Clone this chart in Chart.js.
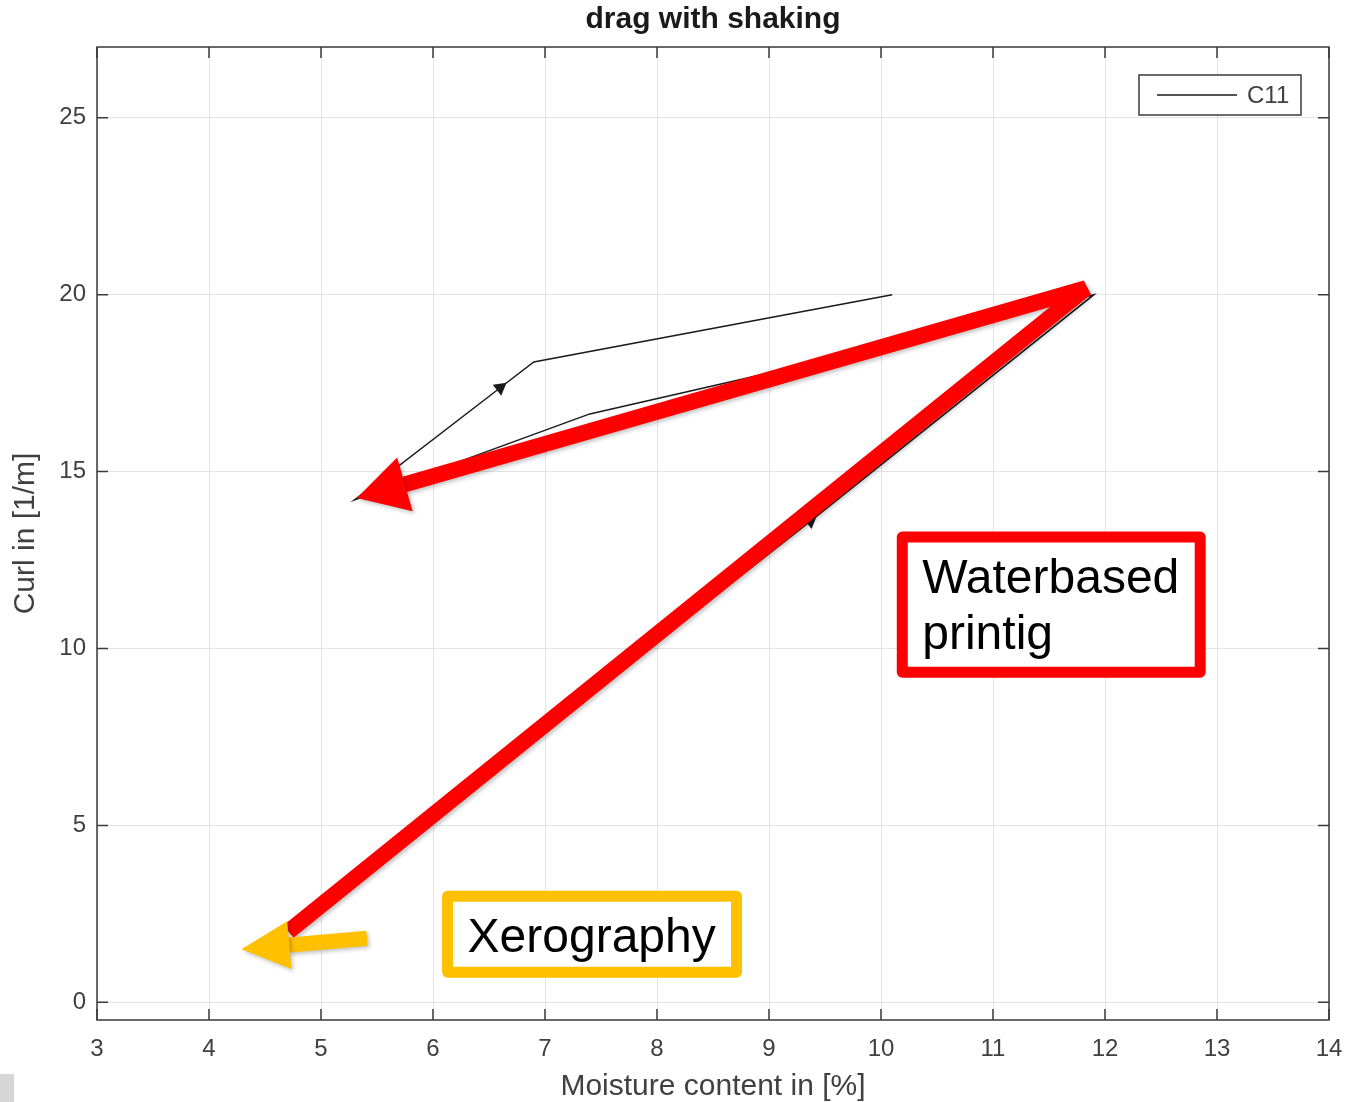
<!DOCTYPE html>
<html>
<head>
<meta charset="utf-8">
<title>drag with shaking</title>
<script src="https://cdn.jsdelivr.net/npm/chart.js@4.4.1/dist/chart.umd.min.js"></script>
<style>
  html, body { margin: 0; padding: 0; background: #fff; overflow: hidden; }
  #wrap { position: relative; width: 1349px; height: 1102px; }
  #curlChart { display: block; }
  #corner { position: absolute; left: 0; top: 1074px; width: 14px; height: 28px; background: #d6d6d6; }
</style>
</head>
<body>
<div id="wrap">
  <canvas id="curlChart" width="1349" height="1102"></canvas>
  <div id="corner"></div>
</div>
<script>
// Curve C11, in drawing order (moisture in %, curl in 1/m)
const moisture = [4.72, 5.84, 9.37, 11.90, 9.86, 7.40, 5.30, 6.60, 6.90, 10.10];
const curl     = [2.05, 4.84, 13.60, 20.00, 18.41, 16.63, 14.20, 17.37, 18.10, 20.00];
// points carrying a direction arrowhead
const arrowMarks = [1, 2, 4, 7];

const xTicks = [3, 4, 5, 6, 7, 8, 9, 10, 11, 12, 13, 14];
const yTicks = [0, 5, 10, 15, 20, 25];

// slide annotations (data units); arrowhead sits on the first point
const redArrow = [[5.32, 14.25], [11.83, 20.18], [4.71, 2.00]];
const yellowArrow = [[4.29, 1.50], [5.41, 1.81]];
// [x left, y top, x right, y bottom]
const redBox = [10.19, 13.15, 12.85, 9.33];
const yellowBox = [6.13, 3.00, 8.71, 0.85];
const redBoxText = ['Waterbased', 'printig'];
const yellowBoxText = ['Xerography'];
const chartTitle = 'drag with shaking';

const AXIS_COLOR = '#3a3a3a';
const TEXT_COLOR = '#404040';
const FONT = '"Liberation Sans", Arial, Helvetica, sans-serif';

function px(chart, p) {
    return [chart.scales.x.getPixelForValue(p[0]), chart.scales.y.getPixelForValue(p[1])];
}

function drawArrow(ctx, pts, color, width, headLen, headHalf) {
    const [tx, ty] = pts[0];
    const [nx, ny] = pts[1];
    const len = Math.hypot(tx - nx, ty - ny);
    const ux = (tx - nx) / len, uy = (ty - ny) / len;
    const bx = tx - ux * headLen, by = ty - uy * headLen;

    ctx.save();
    ctx.shadowColor = 'rgba(0,0,0,0.25)';
    ctx.shadowBlur = 4;
    ctx.shadowOffsetX = 2;
    ctx.shadowOffsetY = 2;

    ctx.strokeStyle = color;
    ctx.lineWidth = width;
    ctx.lineJoin = 'bevel';
    ctx.lineCap = 'butt';
    ctx.beginPath();
    ctx.moveTo(bx + ux * 2, by + uy * 2);
    for (let i = 1; i < pts.length; i++) ctx.lineTo(pts[i][0], pts[i][1]);
    ctx.stroke();

    ctx.fillStyle = color;
    ctx.beginPath();
    ctx.moveTo(tx, ty);
    ctx.lineTo(bx - uy * headHalf, by + ux * headHalf);
    ctx.lineTo(bx + uy * headHalf, by - ux * headHalf);
    ctx.closePath();
    ctx.fill();
    ctx.restore();
}

function drawTextBox(chart, box, lines, color) {
    const ctx = chart.ctx;
    const [x1, y1] = px(chart, [box[0], box[1]]);
    const [x2, y2] = px(chart, [box[2], box[3]]);
    ctx.save();
    ctx.fillStyle = '#fff';
    ctx.fillRect(x1, y1, x2 - x1, y2 - y1);
    ctx.strokeStyle = color;
    ctx.lineWidth = 11;
    ctx.lineJoin = 'round';
    ctx.strokeRect(x1, y1, x2 - x1, y2 - y1);
    ctx.fillStyle = '#000';
    ctx.font = '48px ' + FONT;
    ctx.textBaseline = 'alphabetic';
    ctx.textAlign = 'left';
    lines.forEach((t, i) => ctx.fillText(t, x1 + 20, y1 + 56 + i * 56));
    ctx.restore();
}

// MATLAB-like box with inward ticks, centred title, legend and the slide annotations
const overlayPlugin = {
    id: 'overlay',
    afterDatasetsDraw(chart) {
        const ctx = chart.ctx;
        const { left, right, top, bottom } = chart.chartArea;
        const xs = chart.scales.x, ys = chart.scales.y;

        ctx.save();
        ctx.strokeStyle = AXIS_COLOR;
        ctx.lineWidth = 1.5;
        ctx.strokeRect(left, top, right - left, bottom - top);
        ctx.beginPath();
        xTicks.forEach(v => {
            const x = xs.getPixelForValue(v);
            ctx.moveTo(x, bottom); ctx.lineTo(x, bottom - 11);
            ctx.moveTo(x, top); ctx.lineTo(x, top + 11);
        });
        yTicks.forEach(v => {
            const y = ys.getPixelForValue(v);
            ctx.moveTo(left, y); ctx.lineTo(left + 11, y);
            ctx.moveTo(right, y); ctx.lineTo(right - 11, y);
        });
        ctx.stroke();

        // title, centred over the axes
        ctx.fillStyle = '#1a1a1a';
        ctx.font = 'bold 30px ' + FONT;
        ctx.textAlign = 'center';
        ctx.textBaseline = 'middle';
        ctx.fillText(chartTitle, (left + right) / 2, 20);

        // legend
        const lx = right - 190, ly = top + 28, lw = 162, lh = 40;
        ctx.fillStyle = '#fff';
        ctx.fillRect(lx, ly, lw, lh);
        ctx.strokeRect(lx, ly, lw, lh);
        ctx.strokeStyle = '#1a1a1a';
        ctx.beginPath();
        ctx.moveTo(lx + 18, ly + lh / 2);
        ctx.lineTo(lx + 98, ly + lh / 2);
        ctx.stroke();
        ctx.fillStyle = TEXT_COLOR;
        ctx.font = '24px ' + FONT;
        ctx.textAlign = 'left';
        ctx.fillText(chart.data.datasets[0].label, lx + 108, ly + lh / 2 + 1);
        ctx.restore();

        drawTextBox(chart, redBox, redBoxText, '#ff0000');
        drawTextBox(chart, yellowBox, yellowBoxText, '#ffc000');
        drawArrow(ctx, redArrow.map(p => px(chart, p)), '#ff0000', 16, 50, 28);
        drawArrow(ctx, yellowArrow.map(p => px(chart, p)), '#ffc000', 15, 48, 24);
    }
};

function arrowRotation(c) {
    const i = c.dataIndex;
    const xs = c.chart.scales.x, ys = c.chart.scales.y;
    if (!xs || !ys || i >= moisture.length - 1) return 0;
    const dx = xs.getPixelForValue(moisture[i + 1]) - xs.getPixelForValue(moisture[i]);
    const dy = ys.getPixelForValue(curl[i + 1]) - ys.getPixelForValue(curl[i]);
    return Math.atan2(dx, -dy) * 180 / Math.PI;
}

const ctx = document.getElementById('curlChart').getContext('2d');
new Chart(ctx, {
    type: 'scatter',
    data: {
        datasets: [{
            label: 'C11',
            data: moisture.map((m, i) => ({ x: m, y: curl[i] })),
            showLine: true,
            borderColor: '#1a1a1a',
            borderWidth: 1.5,
            backgroundColor: '#1a1a1a',
            pointStyle: 'triangle',
            pointRadius: c => arrowMarks.includes(c.dataIndex) ? 8 : 0,
            pointHoverRadius: 0,
            pointBorderWidth: 0,
            pointRotation: arrowRotation
        }]
    },
    options: {
        responsive: false,
        animation: false,
        events: [],
        layout: { padding: { left: 0, right: 20, top: 47, bottom: 0 } },
        plugins: {
            legend: { display: false },
            tooltip: { enabled: false },
            title: { display: false }
        },
        scales: {
            x: {
                type: 'linear',
                min: 3,
                max: 14,
                afterBuildTicks: s => { s.ticks = xTicks.map(v => ({ value: v })); },
                afterFit: s => { s.height = 82; s.paddingLeft = 0; s.paddingRight = 0; },
                grid: { color: '#e3e3e3', lineWidth: 1, drawTicks: false },
                border: { display: false },
                ticks: { color: TEXT_COLOR, font: { family: FONT, size: 24 }, padding: 15, maxRotation: 0 },
                title: {
                    display: true,
                    text: 'Moisture content in [%]',
                    color: TEXT_COLOR,
                    font: { family: FONT, size: 30 },
                    padding: { top: 0, bottom: -3 }
                }
            },
            y: {
                type: 'linear',
                min: -0.5,
                max: 27,
                afterBuildTicks: s => { s.ticks = yTicks.map(v => ({ value: v })); },
                afterFit: s => { s.width = 97; s.paddingTop = 0; s.paddingBottom = 0; },
                grid: { color: '#e3e3e3', lineWidth: 1, drawTicks: false },
                border: { display: false },
                ticks: { color: TEXT_COLOR, font: { family: FONT, size: 24 }, padding: 11 },
                title: {
                    display: true,
                    text: 'Curl in [1/m]',
                    color: TEXT_COLOR,
                    font: { family: FONT, size: 30 },
                    padding: { top: 8, bottom: 0 }
                }
            }
        }
    },
    plugins: [overlayPlugin]
});
</script>
</body>
</html>
